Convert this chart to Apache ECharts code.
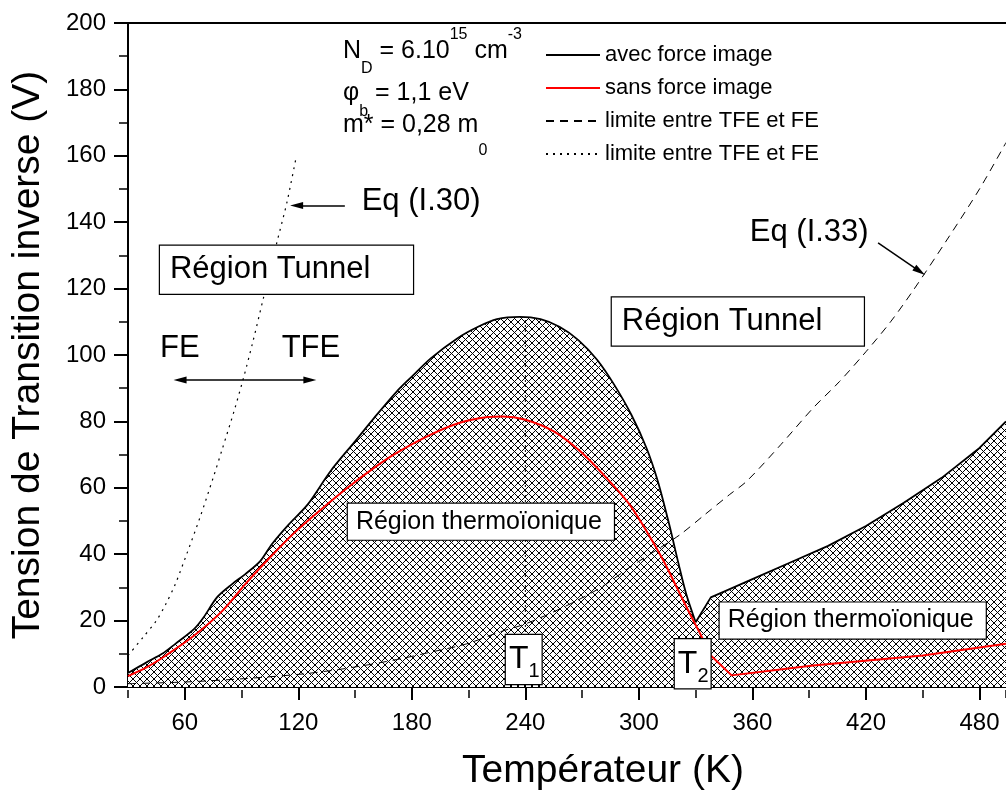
<!DOCTYPE html>
<html>
<head>
<meta charset="utf-8">
<script src="https://cdn.jsdelivr.net/npm/echarts@6/dist/echarts.min.js"></script>
<style>
  html, body { margin: 0; padding: 0; background: #fff; }
  #chart { width: 1006px; height: 796px; }
</style>
</head>
<body>
<div id="chart"></div>
<script>
// Reverse transition voltage vs temperature (Schottky diode, TE / TFE / FE regions)

// --- curve with image force (black, hatched area below): rising hump up to T2 ---
const tempWithImageHump = [30, 40, 48, 55, 65, 70, 77, 85, 92, 100, 106, 115, 125, 137, 150, 160, 172, 180, 190, 204, 215, 225, 237, 248, 258, 268, 278, 287, 296, 304, 310, 316, 321, 325, 330];
const voltWithImageHump = [4.2, 7.5, 10, 13, 17.5, 21, 27, 31, 34, 38, 43, 49, 55, 65, 74, 81, 89, 93.5, 99, 105, 108.5, 110.8, 111.5, 110.8, 108.5, 104.5, 98.5, 91, 82, 72, 62, 49, 37, 28, 19.5];
// --- same curve beyond T2 ---
const tempWithImageHigh = [330, 338, 348, 360, 380, 400, 420, 440, 460, 480, 494];
const voltWithImageHigh = [19.5, 27, 29.5, 32.5, 37.5, 42.5, 48.5, 55.5, 63, 72, 80];

// --- curve without image force (red): hump, then beyond T2 ---
const tempNoImageHump = [30, 40, 50, 65, 80, 92, 105, 118, 130, 146, 160, 172, 190, 205, 220, 228, 240, 255, 269, 282, 295, 305, 313, 320, 327, 332];
const voltNoImageHump = [3.3, 6, 9.5, 15.5, 23, 31, 39, 46.5, 52.5, 60, 66, 70.5, 76, 79.5, 81.3, 81.5, 80.5, 77, 71, 63.5, 55, 46, 38, 30, 22, 16.5];
const tempNoImageHigh = [332, 338, 349, 392, 450, 494];
const voltNoImageHigh = [16.5, 9.5, 3.5, 6.5, 9.5, 13];

// --- TFE / FE boundary, Eq (I.33) (dashed) ---
const tempEq33 = [30, 60, 91, 120, 138, 155, 174, 190, 209, 226, 240, 260, 280, 295, 310, 322, 335, 348, 357, 375, 392, 406, 420, 433, 445, 462, 480, 494];
const voltEq33 = [1, 1.5, 2.5, 3.8, 5, 6.5, 8.5, 10.5, 13, 16.5, 19, 24, 30, 36, 41.5, 46, 52, 58, 62, 73, 84, 92, 101, 110, 119.5, 134, 150, 164];

// --- TFE / FE boundary, Eq (I.30) (dotted) ---
const tempEq30 = [30, 38, 45, 50, 55, 61, 68, 75, 80, 86, 91, 96, 101.5, 105, 108.5, 114, 119];
const voltEq30 = [9.5, 15, 20, 25, 31, 40, 51, 63, 72, 83, 93, 104, 117, 125, 133.5, 146, 160];

// --- T1 marker (vertical dotted line at the maximum) ---
const tempT1 = [240, 240];
const voltT1 = [0, 111.3];

// --- axis ticks ---
const xTickLabels = [60, 120, 180, 240, 300, 360, 420, 480];
const yTickLabels = [0, 20, 40, 60, 80, 100, 120, 140, 160, 180, 200];

const FONT = '"Liberation Sans", Arial, Helvetica, sans-serif';
const pairs = (xs, ys) => xs.map((x, i) => [x, ys[i]]);

// Cross-hatch tile used to fill the thermionic region
function crossHatch(size) {
  const c = document.createElement('canvas');
  c.width = size; c.height = size;
  const g = c.getContext('2d');
  g.fillStyle = '#fff';
  g.fillRect(0, 0, size, size);
  g.strokeStyle = '#000';
  g.lineWidth = 1;
  g.beginPath();
  for (const k of [-size, 0, size]) {
    g.moveTo(k, 0); g.lineTo(k + size, size);
    g.moveTo(k + size, 0); g.lineTo(k, size);
  }
  g.stroke();
  return c;
}
const hatch = { image: crossHatch(7), repeat: 'repeat' };

// Anchors (data coordinates) of the annotation boxes and texts
const noteAnchors = {
  tunnelLeft: [46.9, 125.7],
  tunnelRight: [285.7, 110.1],
  thermoMid: [146.2, 49.8],
  thermoRight: [342.7, 20],
  t1: [229.7, 8.3],
  t2: [319, 7.0],
  fe: [46.9, 102],
  tfe: [111.2, 102],
  eq30: [153.5, 146.1],
  eq33: [358.6, 137],
  nd: [143.6, 191.5],
  phi: [143.6, 178.8],
  mstar: [143.6, 169.2]
};
// Arrow start/end points (data coordinates)
const arrowEq30 = [[144.6, 145], [119.1, 145]];
const arrowEq33 = [[426.4, 133.8], [448.4, 125.2]];
const arrowFeTfe = [[91.8, 92.5], [57.5, 92.5], [126.1, 92.5]];

function boxLabel(text, size, lh, pad, width) {
  return {
    show: true, position: 'right', distance: 0, formatter: text, opacity: 1,
    fontFamily: FONT, fontSize: size, lineHeight: lh, color: '#000',
    backgroundColor: '#fff', borderColor: '#000', borderWidth: 1.2,
    padding: pad, width: width, align: 'left'
  };
}
function plainLabel(text, size) {
  return { show: true, position: 'right', distance: 0, formatter: text, opacity: 1,
    fontFamily: FONT, fontSize: size, color: '#000' };
}
function tempBox(sub) {
  return {
    show: true, position: 'right', distance: 0, opacity: 1,
    formatter: '{t|T}{s|' + sub + '}',
    backgroundColor: '#fff', borderColor: '#000', borderWidth: 1.2,
    padding: [2, 2, 2, 3],
    rich: {
      t: { fontFamily: FONT, fontSize: 32, lineHeight: 45, color: '#000' },
      s: { fontFamily: FONT, fontSize: 20, lineHeight: 20, color: '#000', verticalAlign: 'bottom' }
    }
  };
}
function paramLabel(fmt, lh) {
  return {
    show: true, position: 'right', distance: 0, formatter: fmt, opacity: 1,
    rich: {
      m: { fontFamily: FONT, fontSize: 25, lineHeight: lh, color: '#000' },
      sub: { fontFamily: FONT, fontSize: 16, lineHeight: 16, color: '#000', verticalAlign: 'bottom' },
      sup: { fontFamily: FONT, fontSize: 16, lineHeight: 16, color: '#000', verticalAlign: 'top' }
    }
  };
}

const notes = [
  { value: noteAnchors.tunnelLeft, label: boxLabel('Région Tunnel', 31, 34, [7, 10, 7, 10], 233) },
  { value: noteAnchors.tunnelRight, label: boxLabel('Région Tunnel', 31, 34, [7, 10, 7, 10], 232) },
  { value: noteAnchors.thermoMid, label: boxLabel('Région thermoïonique', 25, 26, [5, 8, 5, 8], 250) },
  { value: noteAnchors.thermoRight, label: boxLabel('Région thermoïonique', 25, 26, [5, 8, 5, 8], 250) },
  { value: noteAnchors.t1, label: tempBox('1') },
  { value: noteAnchors.t2, label: tempBox('2') },
  { value: noteAnchors.fe, label: plainLabel('FE', 31) },
  { value: noteAnchors.tfe, label: plainLabel('TFE', 31) },
  { value: noteAnchors.eq30, label: plainLabel('Eq (I.30)', 31) },
  { value: noteAnchors.eq33, label: plainLabel('Eq (I.33)', 31) },
  { value: noteAnchors.nd, label: paramLabel('{m|N}{sub|D}{m| = 6.10}{sup|15}{m| cm}{sup|-3}', 50) },
  { value: noteAnchors.phi, label: paramLabel('{m|φ}{sub|b}{m| = 1,1 eV}', 52) },
  { value: noteAnchors.mstar, label: paramLabel('{m|m* = 0,28 m}{sub|0}', 66) }
];

const legendText = {
  'avec': 'avec force image',
  'sans': 'sans force image',
  'eq33': 'limite entre TFE et FE',
  'eq30': 'limite entre TFE et FE'
};

const gridRect = { left: 128, top: 23, right: 0, bottom: 106 };
const XMIN = 30, XMAX = 494;

const blackLine = { color: '#000', width: 1.8 };
const redLine = { color: '#ff0000', width: 2 };

const chart = echarts.init(document.getElementById('chart'), null, { renderer: 'canvas' });
chart.setOption({
  animation: false,
  backgroundColor: '#fff',
  textStyle: { fontFamily: FONT },
  grid: [
    Object.assign({ containLabel: false }, gridRect),
    Object.assign({ containLabel: false }, gridRect)
  ],
  legend: {
    data: ['avec', 'sans', 'eq33', 'eq30'],
    orient: 'vertical',
    left: 545, top: 44,
    itemWidth: 54, itemHeight: 14, itemGap: 11,
    padding: 0,
    formatter: name => legendText[name],
    itemStyle: { opacity: 0 },
    textStyle: { fontFamily: FONT, fontSize: 22, color: '#000', lineHeight: 22 },
    selectedMode: false
  },
  xAxis: [
    {
      type: 'value', gridIndex: 0, position: 'bottom', min: XMIN, max: XMAX,
      name: 'Températeur (K)', nameLocation: 'middle', nameGap: 65,
      nameTextStyle: { fontFamily: FONT, fontSize: 39, color: '#000', padding: [0, 0, 0, 72] },
      axisLine: { show: true, onZero: false, lineStyle: { color: '#000', width: 2 } },
      axisTick: { show: true, inside: false, length: 13, customValues: xTickLabels, lineStyle: { color: '#000', width: 2 } },
      axisLabel: { show: true, margin: 24, customValues: xTickLabels, fontFamily: FONT, fontSize: 24, color: '#000' },
      splitLine: { show: false }
    },
    {
      type: 'value', gridIndex: 0, position: 'top', min: XMIN, max: XMAX,
      axisLine: { show: true, onZero: false, lineStyle: { color: '#000', width: 2 } },
      axisTick: { show: false }, axisLabel: { show: false }, splitLine: { show: false }
    },
    {
      type: 'value', gridIndex: 1, position: 'bottom', min: XMIN, max: XMAX, interval: 30,
      axisLine: { show: false, onZero: false },
      axisTick: { show: true, inside: false, length: 8, lineStyle: { color: '#000', width: 1.5 } },
      axisLabel: { show: false }, splitLine: { show: false }
    }
  ],
  yAxis: [
    {
      type: 'value', gridIndex: 0, min: 0, max: 200, interval: 20,
      name: 'Tension de Transition inverse (V)', nameLocation: 'middle', nameGap: 80,
      nameTextStyle: { fontFamily: FONT, fontSize: 39, color: '#000' },
      axisLine: { show: true, onZero: false, lineStyle: { color: '#000', width: 2 } },
      axisTick: { show: true, inside: false, length: 14, lineStyle: { color: '#000', width: 2 } },
      minorTick: { show: true, splitNumber: 2, length: 9, lineStyle: { color: '#000', width: 1.5 } },
      axisLabel: { show: true, margin: 22, fontFamily: FONT, fontSize: 24, color: '#000',
        formatter: v => (yTickLabels.indexOf(v) >= 0 ? String(v) : '') },
      splitLine: { show: false }
    },
    { type: 'value', gridIndex: 1, min: 0, max: 200, show: false }
  ],
  series: [
    {
      name: 'avec', type: 'line', xAxisIndex: 0, yAxisIndex: 0,
      data: pairs(tempWithImageHump, voltWithImageHump),
      symbol: 'none', z: 2, color: '#000',
      smooth: 0.3,
      lineStyle: blackLine,
      areaStyle: { color: hatch, opacity: 1 }
    },
    {
      name: 'avec', type: 'line', xAxisIndex: 0, yAxisIndex: 0,
      data: pairs(tempWithImageHigh, voltWithImageHigh),
      symbol: 'none', z: 2, color: '#000',
      lineStyle: blackLine,
      areaStyle: { color: hatch, opacity: 1 }
    },
    {
      name: 'sans', type: 'line', xAxisIndex: 0, yAxisIndex: 0,
      data: pairs(tempNoImageHump, voltNoImageHump),
      symbol: 'none', z: 4, color: '#ff0000',
      smooth: 0.3,
      lineStyle: redLine
    },
    {
      name: 'sans', type: 'line', xAxisIndex: 0, yAxisIndex: 0,
      data: pairs(tempNoImageHigh, voltNoImageHigh),
      symbol: 'none', z: 4, color: '#ff0000',
      lineStyle: redLine
    },
    {
      name: 'eq33', type: 'line', xAxisIndex: 0, yAxisIndex: 0,
      data: pairs(tempEq33, voltEq33),
      symbol: 'none', z: 3, color: '#000',
      smooth: 0.3,
      lineStyle: { color: '#000', width: 1, type: [8, 6] }
    },
    {
      name: 'eq30', type: 'line', xAxisIndex: 0, yAxisIndex: 0,
      data: pairs(tempEq30, voltEq30),
      symbol: 'none', z: 3, color: '#000',
      smooth: 0.3,
      lineStyle: { color: '#000', width: 1.2, type: [2, 5] }
    },
    {
      name: 'T1', type: 'line', xAxisIndex: 0, yAxisIndex: 0,
      data: pairs(tempT1, voltT1),
      symbol: 'none', z: 3, color: '#000',
      lineStyle: { color: '#000', width: 1, type: [2, 3] }
    },
    {
      name: 'arrows', type: 'line', xAxisIndex: 0, yAxisIndex: 0, data: [],
      markLine: {
        silent: true, symbol: ['none', 'triangle'], symbolSize: [7, 13],
        label: { show: false },
        lineStyle: { color: '#000', width: 1.5, type: 'solid' },
        data: [
          [{ coord: arrowEq30[0] }, { coord: arrowEq30[1] }],
          [{ coord: arrowEq33[0] }, { coord: arrowEq33[1] }],
          [{ coord: arrowFeTfe[0] }, { coord: arrowFeTfe[1] }],
          [{ coord: arrowFeTfe[0] }, { coord: arrowFeTfe[2] }]
        ]
      }
    },
    {
      name: 'notes', type: 'scatter', xAxisIndex: 0, yAxisIndex: 0,
      symbolSize: 0, silent: true, z: 10,
      itemStyle: { color: 'rgba(0,0,0,0)', opacity: 1 },
      data: notes
    }
  ]
});
</script>
</body>
</html>
